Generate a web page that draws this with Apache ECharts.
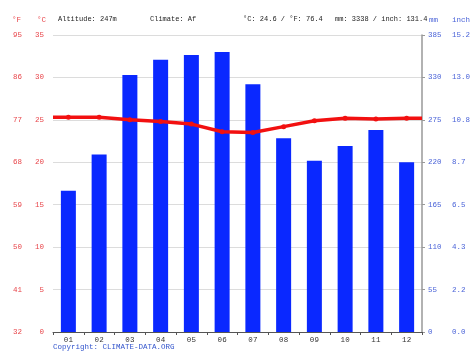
<!DOCTYPE html>
<html><head><meta charset="utf-8">
<script src="https://cdn.jsdelivr.net/npm/echarts/dist/echarts.min.js"></script>
<style>html,body{margin:0;padding:0;background:#fff}#c{width:474px;height:355px}</style>
</head><body><div id="c"></div>
<script>
const months = ['01','02','03','04','05','06','07','08','09','10','11','12'];
const precipMm = [183, 230, 333, 353, 359, 363, 321, 251, 222, 241, 262, 220];
const tempC = [25.3, 25.3, 25.0, 24.8, 24.5, 23.6, 23.5, 24.2, 24.9, 25.2, 25.1, 25.2];
const tempEdgeC = [25.3, 25.2];
const celsiusTicks = ['0','5','10','15','20','25','30','35'];
const fahrenheitTicks = ['32','41','50','59','68','77','86','95'];
const mmTicks = ['0','55','110','165','220','275','330','385'];
const inchTicks = ['0.0','2.2','4.3','6.5','8.7','10.8','13.0','15.2'];

const FONT = '"Liberation Mono", "DejaVu Sans Mono", monospace';
const RED = '#e8454a';
const BLUE = '#4a63d8';

const lineData = [[0, tempEdgeC[0]]]
  .concat(tempC.map((t, i) => [i + 0.5, t]))
  .concat([[12, tempEdgeC[1]]]);

const chart = echarts.init(document.getElementById('c'), null, {renderer: 'canvas'});
const lbl = (color) => ({color: color, fontFamily: FONT, fontSize: 7.5});
chart.setOption({
  animation: false,
  backgroundColor: '#fff',
  grid: {left: 53, right: 52, top: 35, bottom: 23, containLabel: false},
  graphic: [
    {type: 'text', left: 12, top: 16, style: {text: '°F', fill: RED, font: '7.5px ' + FONT}},
    {type: 'text', left: 37, top: 16, style: {text: '°C', fill: RED, font: '7.5px ' + FONT}},
    {type: 'text', left: 58, top: 16, style: {text: 'Altitude: 247m', fill: '#222', font: '7px ' + FONT}},
    {type: 'text', left: 150, top: 16, style: {text: 'Climate: Af', fill: '#222', font: '7px ' + FONT}},
    {type: 'text', left: 243, top: 16, style: {text: '°C: 24.6 / °F: 76.4', fill: '#222', font: '7px ' + FONT}},
    {type: 'text', left: 335, top: 16, style: {text: 'mm: 3338 / inch: 131.4', fill: '#222', font: '7px ' + FONT}},
    {type: 'text', left: 429, top: 16, style: {text: 'mm', fill: BLUE, font: '7.5px ' + FONT}},
    {type: 'text', left: 452, top: 16, style: {text: 'inch', fill: BLUE, font: '7.5px ' + FONT}},
    {type: 'text', left: 53, top: 343, style: {text: 'Copyright: CLIMATE-DATA.ORG', fill: '#3355cc', font: '7.5px ' + FONT}}
  ],
  xAxis: [
    {type: 'category', data: months, boundaryGap: true,
     axisLine: {show: true, lineStyle: {color: '#555', width: 1}},
     axisTick: {show: true, alignWithLabel: false, length: 3, lineStyle: {color: '#555'}},
     axisLabel: Object.assign(lbl('#333'), {margin: 4}),
     splitLine: {show: false}},
    {type: 'value', min: 0, max: 12, show: false}
  ],
  yAxis: [
    {type: 'value', position: 'left', min: 0, max: 35, interval: 5,
     axisLine: {show: false}, axisTick: {show: false},
     splitLine: {show: true, lineStyle: {color: '#dcdcdc', width: 1}},
     axisLabel: Object.assign(lbl(RED), {margin: 9, formatter: (v) => celsiusTicks[Math.round(v / 5)]})},
    {type: 'value', position: 'left', offset: 22, min: 0, max: 35, interval: 5,
     axisLine: {show: false}, axisTick: {show: false}, splitLine: {show: false},
     axisLabel: Object.assign(lbl(RED), {margin: 9, formatter: (v) => fahrenheitTicks[Math.round(v / 5)]})},
    {type: 'value', position: 'right', min: 0, max: 385, interval: 55,
     axisLine: {show: true, lineStyle: {color: '#999', width: 1.5}},
     axisTick: {show: true, length: 3, lineStyle: {color: '#999'}},
     splitLine: {show: false},
     axisLabel: Object.assign(lbl(BLUE), {margin: 6, formatter: (v) => mmTicks[Math.round(v / 55)]})},
    {type: 'value', position: 'right', offset: 24, min: 0, max: 385, interval: 55,
     axisLine: {show: false}, axisTick: {show: false}, splitLine: {show: false},
     axisLabel: Object.assign(lbl(BLUE), {margin: 6, formatter: (v) => inchTicks[Math.round(v / 55)]})}
  ],
  series: [
    {type: 'bar', xAxisIndex: 0, yAxisIndex: 2, data: precipMm, barWidth: 15,
     itemStyle: {color: '#0a28ff'}, z: 2},
    {type: 'line', xAxisIndex: 1, yAxisIndex: 0, data: lineData, z: 5,
     symbol: 'circle',
     symbolSize: (v, p) => (p.dataIndex === 0 || p.dataIndex === lineData.length - 1) ? 0 : 5,
     itemStyle: {color: '#f21010'},
     lineStyle: {color: '#f21010', width: 3.5}}
  ]
});
</script></body></html>
